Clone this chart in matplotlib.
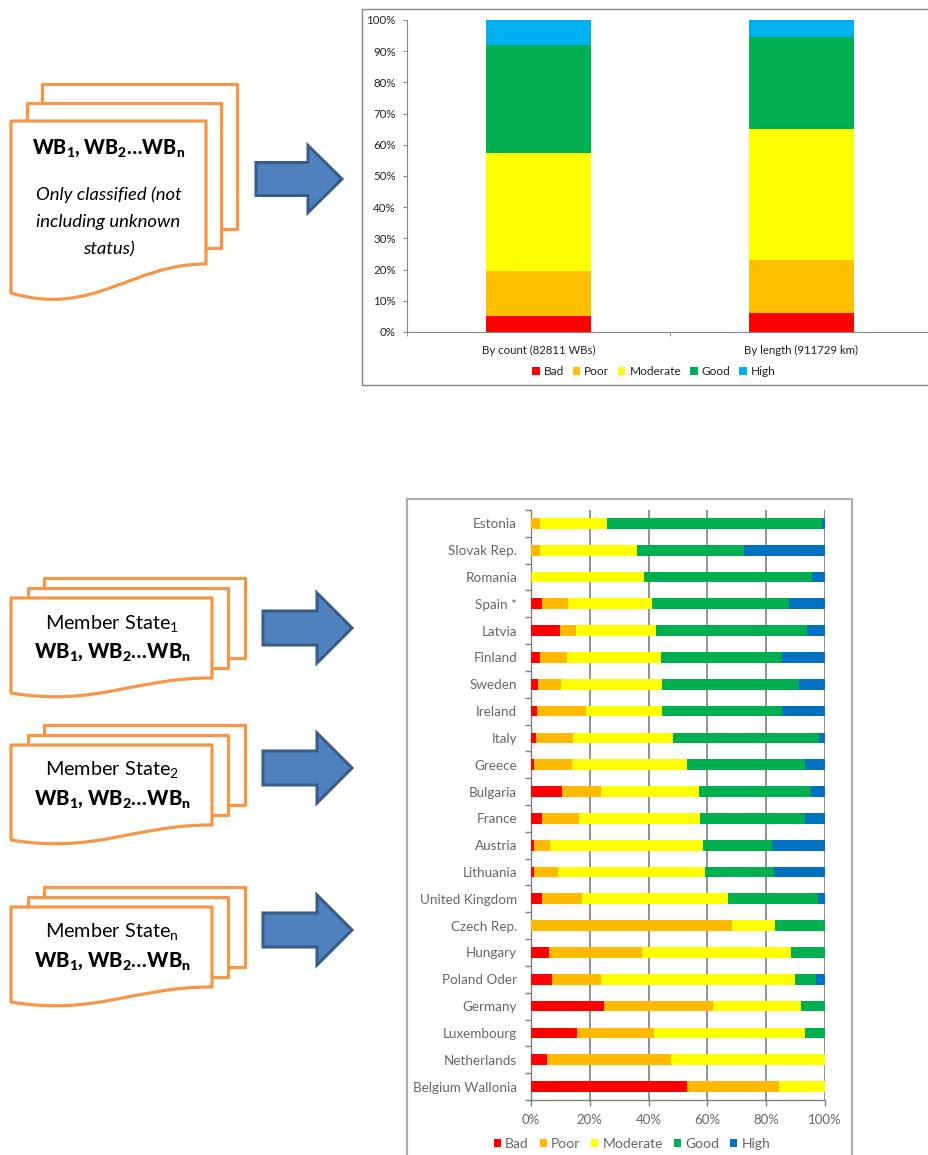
import matplotlib
matplotlib.use("Agg")
import matplotlib.pyplot as plt
from matplotlib.patches import Polygon, PathPatch
from matplotlib.path import Path
from matplotlib.ticker import FixedLocator, FuncFormatter

plt.rcParams['font.family'] = ['Lato', 'DejaVu Sans']
plt.rcParams['mathtext.fontset'] = 'custom'
plt.rcParams['mathtext.rm'] = 'Lato'
plt.rcParams['mathtext.it'] = 'Lato:italic'
plt.rcParams['mathtext.bf'] = 'Lato:weight=900'

W, H = 929, 1155

status = ['Bad', 'Poor', 'Moderate', 'Good', 'High']
colors_top = ['#FF0000', '#FFC000', '#FFFF00', '#00B050', '#00B0F0']
colors_bot = ['#FF0000', '#FFB900', '#FFFF00', '#00B050', '#0070C0']

top_categories = ['By count (82811 WBs)', 'By length (911729 km)']
top_bad = [5.2, 6.0]
top_poor = [14.3, 17.0]
top_moderate = [38.0, 42.0]
top_good = [34.5, 29.5]
top_high = [8.0, 5.5]

countries = ['Estonia', 'Slovak Rep.', 'Romania', 'Spain *', 'Latvia', 'Finland', 'Sweden',
             'Ireland', 'Italy', 'Greece', 'Bulgaria', 'France', 'Austria', 'Lithuania',
             'United Kingdom', 'Czech Rep.', 'Hungary', 'Poland Oder', 'Germany',
             'Luxembourg', 'Netherlands', 'Belgium Wallonia']
ms_bad = [0, 0, 0, 3.7, 9.7, 3.2, 2.3, 2.2, 1.7, 1.1, 10.5, 3.7, 1.1, 1.1, 3.7, 0, 6.1, 7.2, 24.8, 15.6, 5.3, 52.9]
ms_poor = [3.2, 3.2, 0.5, 8.9, 5.5, 9.0, 7.9, 16.6, 12.5, 12.7, 13.2, 12.5, 5.2, 8.1, 13.5, 68.4, 31.7, 16.5, 37.0, 26.4, 42.2, 31.6]
ms_moderate = [22.6, 32.9, 38.1, 28.5, 27.2, 32.1, 34.5, 25.9, 34.0, 39.2, 33.3, 41.2, 52.1, 50.1, 49.8, 14.6, 50.5, 66.2, 30.2, 51.1, 52.5, 15.5]
ms_good = [73.1, 36.3, 57.1, 46.8, 51.4, 41.1, 46.6, 40.6, 49.8, 40.2, 38.2, 35.8, 23.7, 23.5, 30.7, 17.0, 11.7, 6.9, 8.0, 6.9, 0, 0]
ms_high = [1.1, 27.6, 4.3, 12.1, 6.2, 14.6, 8.7, 14.7, 2.0, 6.8, 4.8, 6.8, 17.9, 17.2, 2.3, 0, 0, 3.2, 0, 0, 0, 0]

doc_title = r'$\mathbf{WB_1{,}\;WB_2{\ldots}WB_n}$'
doc_note = ['Only classified (not', 'including unknown', 'status)']
ms_titles = [r'Member State$_{\mathrm{1}}$', r'Member State$_{\mathrm{2}}$', r'Member State$_{\mathrm{n}}$']

fig = plt.figure(figsize=(W / 100, H / 100), dpi=100, facecolor='white')

def axes_px(x0, y0, x1, y1, **kw):
    return fig.add_axes([x0 / W, 1 - y1 / H, (x1 - x0) / W, (y1 - y0) / H], **kw)

# Overlay in pixel coordinates for the schematic shapes and frames
ov = axes_px(0, 0, W, H)
ov.set_xlim(0, W)
ov.set_ylim(H, 0)
ov.axis('off')
ov.set_zorder(0)

ORANGE = '#F79646'
def page(x0, x1, top, rb, lb=None, low=None, z=1):
    if lb is None:
        verts = [(x0, top), (x1, top), (x1, rb), (x0, rb), (x0, top)]
        codes = [Path.MOVETO] + [Path.LINETO] * 3 + [Path.CLOSEPOLY]
    else:
        w = x1 - x0
        verts = [(x0, top), (x1, top), (x1, rb),
                 (x1 - 0.38 * w, rb - 0.5), (x0 + 0.42 * w, low + (low - lb) * 2.5), (x0, lb),
                 (x0, top)]
        codes = [Path.MOVETO, Path.LINETO, Path.LINETO, Path.CURVE4, Path.CURVE4, Path.CURVE4, Path.CLOSEPOLY]
    ov.add_patch(PathPatch(Path(verts, codes), fc='white', ec=ORANGE, lw=2.3, joinstyle='round', zorder=z))

def arrow(x0, xb, xt, yc, hb, hh):
    pts = [(x0, yc - hb), (xb, yc - hb), (xb, yc - hh), (xt, yc), (xb, yc + hh), (xb, yc + hb), (x0, yc + hb)]
    ov.add_patch(Polygon(pts, closed=True, fc='#4F81BD', ec='#385D8A', lw=2.2, joinstyle='miter', zorder=2))

# Top document stack
page(42, 237, 84, 229, z=1)
page(27, 221, 103, 248, z=2)
page(11, 206, 121, 264, 293, 300, z=3)
ov.text(108.5, 148, doc_title, ha='center', va='center', fontsize=14.2, color='black', zorder=5)
for yy, line in zip([195, 222, 249], doc_note):
    ov.text(108.5, yy, line, ha='center', va='center', fontsize=13.3, style='italic', color='black', zorder=5)
arrow(256, 308, 342, 179, 16.5, 33.5)

# Member state stacks
for top, title, ac in zip([598, 745, 907], ms_titles, [628, 768, 930]):
    page(44, 245, top - 20, top + 60, z=1)
    page(28, 228, top - 10, top + 70, z=2)
    page(11, 212, top, top + 80, top + 95, top + 99, z=3)
    ov.text(112, top + 25, title, ha='center', va='center', fontsize=14.3, color='black', zorder=5)
    ov.text(112, top + 54, doc_title, ha='center', va='center', fontsize=14.6, color='black', zorder=5)
    arrow(263, 317, 352, ac, 17, 35)

# Chart frames
ov.plot([929, 362, 362, 929], [9, 9, 385, 385], color='#868686', lw=1, zorder=1)
ov.plot([407.5, 407.5], [1155, 499], color='#B0B0B0', lw=1.6, zorder=1)
ov.plot([407.5, 852, 852], [499, 499, 1155], color='#B0B0B0', lw=1.6, zorder=1)

# Top stacked columns
ax = axes_px(407, 20, 929, 332)
ax.set_zorder(3)
ax.patch.set_alpha(0)
left = [0.0, 0.0]
for name, vals, col in zip(status, [top_bad, top_poor, top_moderate, top_good, top_high], colors_top):
    ax.bar(range(2), vals, 0.4, bottom=left, color=col, label=name)
    left = [a + b for a, b in zip(left, vals)]
ax.set_xlim(-0.5, 1.485)
ax.set_ylim(0, 100)
ax.yaxis.set_major_locator(FixedLocator(list(range(0, 101, 10))))
ax.yaxis.set_major_formatter(FuncFormatter(lambda v, p: f'{v:.0f}%'))
ax.set_xticks([0, 1], top_categories)
ax.xaxis.set_minor_locator(FixedLocator([-0.5, 0.5]))
ax.tick_params(axis='x', which='major', length=0, pad=9.5, labelsize=8.2, labelcolor='#222222')
ax.tick_params(axis='x', which='minor', length=3, color='#868686')
ax.tick_params(axis='y', length=3, color='#868686', labelsize=8.3, labelcolor='#222222', pad=5)
for s in ['top', 'right']:
    ax.spines[s].set_visible(False)
for s in ['left', 'bottom']:
    ax.spines[s].set_color('#868686')
    ax.spines[s].set_linewidth(0.8)
ax.legend(ncol=5, loc='center', bbox_to_anchor=((654 - 407) / 522, (332 - 371.5) / 312), frameon=False,
          fontsize=8.6, handlelength=0.6, handleheight=0.6, handletextpad=0.35, columnspacing=0.75,
          labelcolor='#222222')

# Bottom stacked horizontal bars
bx = axes_px(531, 510, 825, 1100)
bx.set_zorder(3)
bx.patch.set_alpha(0)
pos = list(range(len(countries)))
left = [0.0] * len(countries)
for name, vals, col in zip(status, [ms_bad, ms_poor, ms_moderate, ms_good, ms_high], colors_bot):
    bx.barh(pos, vals, 0.4, left=left, color=col, label=name, zorder=3)
    left = [a + b for a, b in zip(left, vals)]
bx.set_ylim(len(countries) - 0.5, -0.5)
bx.set_xlim(0, 100)
bx.set_xticks([0, 20, 40, 60, 80, 100], ['0%', '20%', '40%', '60%', '80%', '100%'])
bx.set_yticks(pos, countries)
bx.yaxis.set_minor_locator(FixedLocator([p - 0.5 for p in pos] + [len(pos) - 0.5]))
bx.grid(axis='x', color='#7F7F7F', lw=1.2, zorder=1)
bx.set_axisbelow(True)
bx.tick_params(axis='y', which='major', length=0, pad=10, labelsize=9.7, labelcolor='#666666')
bx.tick_params(axis='y', which='minor', length=4, color='#808080', width=1)
bx.tick_params(axis='x', length=4, color='#808080', width=1, labelsize=9.5, labelcolor='#666666', pad=6)
for s in ['top', 'right']:
    bx.spines[s].set_visible(False)
for s in ['left', 'bottom']:
    bx.spines[s].set_color('#808080')
    bx.spines[s].set_linewidth(1)
bx.legend(ncol=5, loc='center', bbox_to_anchor=((632 - 531) / 294, (1100 - 1144) / 590), frameon=False,
          fontsize=10, handlelength=0.5, handleheight=0.5, handletextpad=0.3, columnspacing=0.8,
          labelcolor='#666666')

fig.savefig('out.png', dpi=100)
